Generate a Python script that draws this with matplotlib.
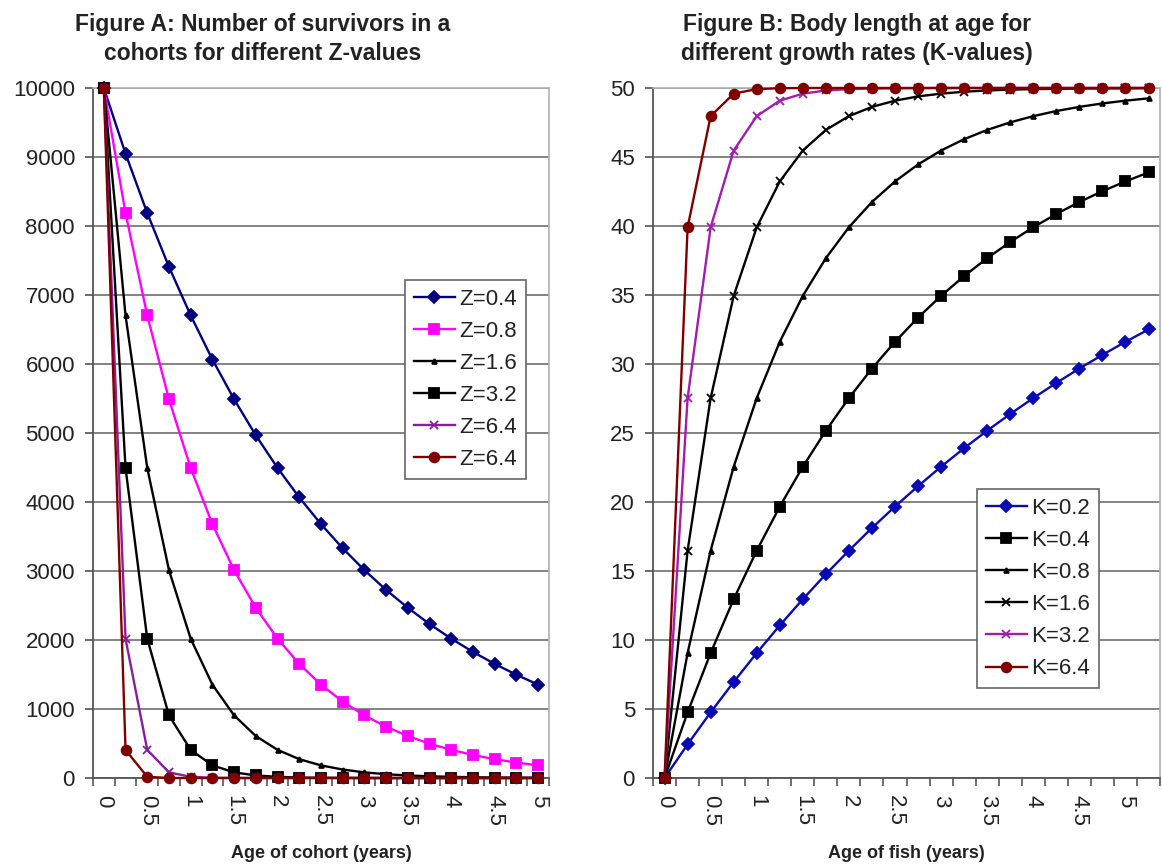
#!/usr/bin/env python
"""Cohort survivors (Z) and body length at age (K): two Excel-style line charts."""

import matplotlib

matplotlib.use("Agg")

import matplotlib.pyplot as plt
import numpy as np

plt.rcParams["font.family"] = ["Liberation Sans", "DejaVu Sans"]

# Figure A: ages 0..5 years in quarter-year steps
AGES_A = [0, 0.25, 0.5, 0.75, 1, 1.25, 1.5, 1.75, 2, 2.25, 2.5,
          2.75, 3, 3.25, 3.5, 3.75, 4, 4.25, 4.5, 4.75, 5]
Z_LABELS = ["Z=0.4", "Z=0.8", "Z=1.6", "Z=3.2", "Z=6.4", "Z=6.4"]
SURV_Z04 = [10000, 9048, 8187, 7408, 6703, 6065, 5488, 4966, 4493, 4066, 3679,
            3329, 3012, 2725, 2466, 2231, 2019, 1827, 1653, 1496, 1353]
SURV_Z08 = [10000, 8187, 6703, 5488, 4493, 3679, 3012, 2466, 2019, 1653, 1353,
            1108, 907, 743, 608, 498, 408, 334, 273, 224, 183]
SURV_Z16 = [10000, 6703, 4493, 3012, 2019, 1353, 907, 608, 408, 273, 183,
            123, 82, 55, 37, 25, 17, 11, 7, 5, 3]
SURV_Z32 = [10000, 4493, 2019, 907, 408, 183, 82, 37, 17, 7, 3,
            2, 1, 0, 0, 0, 0, 0, 0, 0, 0]
SURV_Z64 = [10000, 2019, 408, 82, 17, 3, 1, 0, 0, 0, 0,
            0, 0, 0, 0, 0, 0, 0, 0, 0, 0]
SURV_Z128 = [10000, 408, 17, 1, 0, 0, 0, 0, 0, 0, 0,
             0, 0, 0, 0, 0, 0, 0, 0, 0, 0]

# Figure B: ages 0..5.25 years in quarter-year steps
AGES_B = [0, 0.25, 0.5, 0.75, 1, 1.25, 1.5, 1.75, 2, 2.25, 2.5,
          2.75, 3, 3.25, 3.5, 3.75, 4, 4.25, 4.5, 4.75, 5, 5.25]
K_LABELS = ["K=0.2", "K=0.4", "K=0.8", "K=1.6", "K=3.2", "K=6.4"]
LEN_K02 = [0, 2.44, 4.76, 6.96, 9.06, 11.06, 12.96, 14.77, 16.48, 18.12, 19.67,
           21.15, 22.56, 23.90, 25.17, 26.38, 27.53, 28.63, 29.67, 30.66, 31.61, 32.50]
LEN_K04 = [0, 4.76, 9.06, 12.96, 16.48, 19.67, 22.56, 25.17, 27.53, 29.67, 31.61,
           33.36, 34.94, 36.37, 37.67, 38.84, 39.91, 40.87, 41.74, 42.52, 43.23, 43.88]
LEN_K08 = [0, 9.06, 16.48, 22.56, 27.53, 31.61, 34.94, 37.67, 39.91, 41.74, 43.23,
           44.46, 45.47, 46.29, 46.96, 47.51, 47.96, 48.33, 48.63, 48.88, 49.08, 49.25]
LEN_K16 = [0, 16.48, 27.53, 34.94, 39.91, 43.23, 45.47, 46.96, 47.96, 48.63, 49.08,
           49.39, 49.59, 49.73, 49.82, 49.88, 49.92, 49.94, 49.96, 49.97, 49.98, 49.99]
LEN_K32 = [0, 27.53, 39.91, 45.47, 47.96, 49.08, 49.59, 49.82, 49.92, 49.96, 49.98,
           49.99, 50, 50, 50, 50, 50, 50, 50, 50, 50, 50]
LEN_K64 = [0, 39.91, 47.96, 49.59, 49.92, 49.98, 50, 50, 50, 50, 50,
           50, 50, 50, 50, 50, 50, 50, 50, 50, 50, 50]

# (color, marker, markersize)
STYLE_A = [
    ("#000080", "D", 6.5),
    ("#FF00FF", "s", 7.5),
    ("#000000", "^", 3.5),
    ("#000000", "s", 6.5),
    ("#8A1C9E", "x", 6),
    ("#800000", "o", 7),
]
STYLE_B = [
    ("#0A0AB4", "D", 6.5),
    ("#000000", "s", 7.5),
    ("#000000", "^", 3.5),
    ("#000000", "x", 5.5),
    ("#A21CB0", "x", 6),
    ("#800000", "o", 7),
]

GRID_COLOR = "#7a7a7a"
TEXT_COLOR = "#222222"
FONT = 16


def style_axis(ax, ages, ymax, ystep):
    n = len(ages)
    ax.set_xlim(-0.5, n - 0.5)
    ax.set_ylim(0, ymax)
    ax.set_yticks(np.arange(0, ymax + ystep / 2, ystep))
    # Excel category axis: tick marks between categories, labels on every other one
    ax.set_xticks(np.arange(n + 1) - 0.5, minor=True)
    ax.set_xticks(np.arange(0, n, 2))
    ax.set_xticklabels([f"{ages[i]:g}" for i in range(0, n, 2)],
                       rotation=270, va="top", ha="center")
    ax.tick_params(axis="x", which="major", length=0, pad=12,
                   labelsize=FONT, labelcolor=TEXT_COLOR)
    ax.tick_params(axis="x", which="minor", length=6, width=1.2,
                   direction="out", color="#555555")
    ax.tick_params(axis="y", length=6, width=1.2, direction="out",
                   color="#555555", pad=7, labelsize=FONT, labelcolor=TEXT_COLOR)
    ax.grid(axis="y", color=GRID_COLOR, linewidth=1.3)
    ax.set_axisbelow(True)
    ax.spines["left"].set_color("#555555")
    ax.spines["bottom"].set_color("#555555")
    ax.spines["left"].set_linewidth(1.3)
    ax.spines["bottom"].set_linewidth(1.3)
    for side in ("top", "right"):
        ax.spines[side].set_color("#b0b0b0")
        ax.spines[side].set_linewidth(1.2)


def draw_series(ax, series, labels, styles):
    for values, label, (color, marker, ms) in zip(series, labels, styles):
        x = np.arange(len(values))
        ax.plot(x, values, color=color, linewidth=1.7, marker=marker,
                markersize=ms, markerfacecolor=color, markeredgecolor=color,
                markeredgewidth=1.3, label=label, clip_on=False, zorder=3)


def add_legend(ax, anchor):
    leg = ax.legend(loc="upper left", bbox_to_anchor=anchor, borderaxespad=0,
                    fontsize=FONT, frameon=True, fancybox=False, framealpha=1,
                    edgecolor="#666666", handlelength=1.85, handletextpad=0.2,
                    labelspacing=0.5, borderpad=0.4, labelcolor=TEXT_COLOR)
    leg.get_frame().set_linewidth(1.2)
    leg.set_zorder(5)


def main():
    fig = plt.figure(figsize=(11.62, 8.66), dpi=100)
    ax_a = fig.add_axes([0.0800, 0.1016, 0.3925, 0.7968])
    ax_b = fig.add_axes([0.5620, 0.1016, 0.4363, 0.7968])

    draw_series(ax_a, [SURV_Z04, SURV_Z08, SURV_Z16, SURV_Z32, SURV_Z64, SURV_Z128],
                Z_LABELS, STYLE_A)
    style_axis(ax_a, AGES_A, 10000, 1000)
    add_legend(ax_a, (0.684, 0.722))

    draw_series(ax_b, [LEN_K02, LEN_K04, LEN_K08, LEN_K16, LEN_K32, LEN_K64],
                K_LABELS, STYLE_B)
    style_axis(ax_b, AGES_B, 50, 5)
    add_legend(ax_b, (0.639, 0.419))

    for ax, label in ((ax_a, "Age of cohort (years)"), (ax_b, "Age of fish (years)")):
        ax.set_xlabel(label, fontsize=13, fontweight="bold", color=TEXT_COLOR,
                      va="center")
        ax.xaxis.set_label_coords(0.5, -0.109)

    fig.text(0.2263, 0.955,
             "Figure A: Number of survivors in a\ncohorts for different Z-values",
             ha="center", va="center", fontsize=16.5, fontweight="bold",
             color=TEXT_COLOR, linespacing=1.3)
    fig.text(0.7375, 0.955,
             "Figure B: Body length at age for\ndifferent growth rates (K-values)",
             ha="center", va="center", fontsize=16.5, fontweight="bold",
             color=TEXT_COLOR, linespacing=1.3)

    fig.savefig("out.png", dpi=100)
    plt.close(fig)


if __name__ == "__main__":
    main()
